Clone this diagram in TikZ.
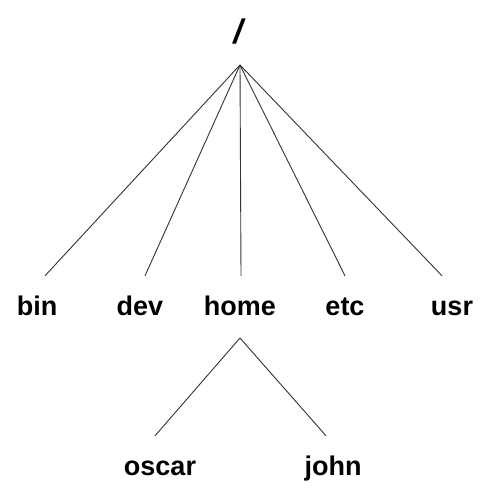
\documentclass[tikz,border=0pt]{standalone}
\usepackage{fontspec}
\setmainfont{Liberation Sans}
\usepackage{tikz}

\tikzset{
  dirname/.style={font=\fontsize{27}{30}\selectfont\bfseries, inner sep=0pt, text height=19pt, text depth=0pt, anchor=base},
  edge/.style={draw=black!80, line width=0.9pt}
}

\begin{document}
\begin{tikzpicture}[x=1pt,y=-1pt]
\useasboundingbox (0,0) rectangle (481,495);
\node[font=\fontsize{34}{36}\selectfont\bfseries\itshape, inner sep=0pt] (root) at (238,32) {/};
\node[dirname] (bin) at (37,315) {bin};
\node[dirname] (dev) at (140,315) {dev};
\node[dirname] (home) at (240,315) {home};
\node[dirname] (etc) at (345,315) {etc};
\node[dirname] (usr) at (452,315) {usr};
\node[dirname] (oscar) at (160,475) {oscar};
\node[dirname] (john) at (333,475) {john};
\coordinate (hub) at (240,65);
\coordinate (homehub) at (240,338);
\draw[edge] (hub) -- ([shift={(8pt,20pt)}]bin.north);
\draw[edge] (hub) -- ([shift={(5pt,20pt)}]dev.north);
\draw[edge] (hub) -- ([shift={(1pt,20pt)}]home.north);
\draw[edge] (hub) -- ([shift={(0pt,20pt)}]etc.north);
\draw[edge] (hub) -- ([shift={(-10pt,20pt)}]usr.north);
\draw[edge] (homehub) -- ([shift={(-5pt,20pt)}]oscar.north);
\draw[edge] (homehub) -- ([shift={(-7pt,20pt)}]john.north);
\end{tikzpicture}
\end{document}
